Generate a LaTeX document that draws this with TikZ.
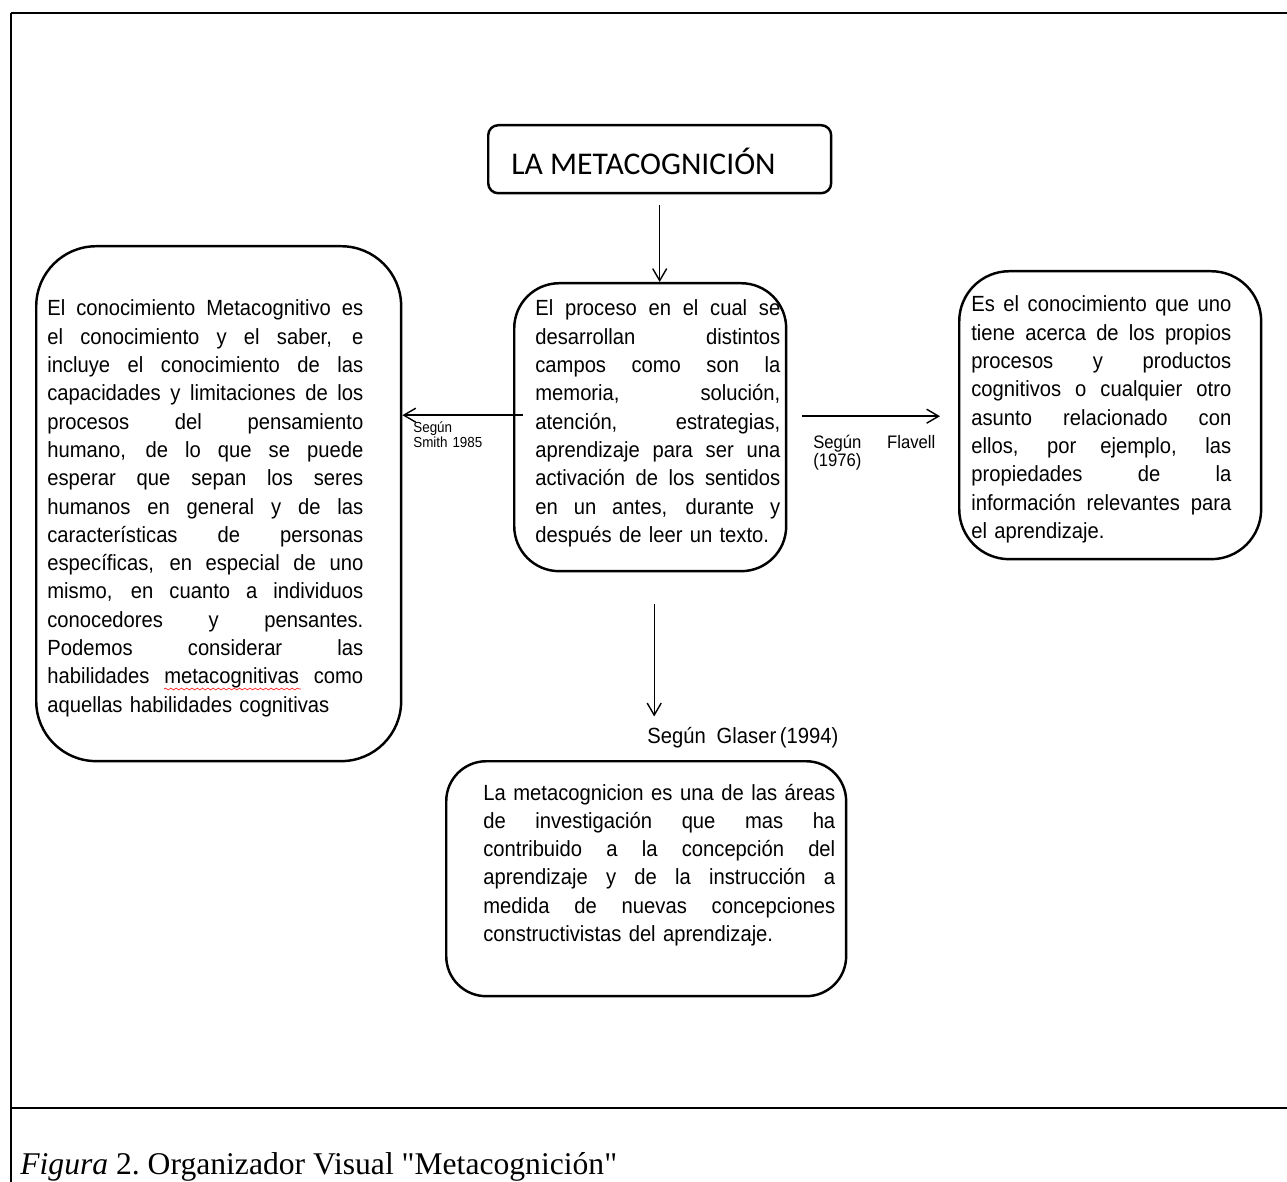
\documentclass[tikz,border=0pt]{standalone}
\usepackage{fontspec}
\setmainfont{Liberation Serif}[Ligatures=TeXOff]
\newfontfamily\arialn[FakeStretch=0.92]{Liberation Sans}
\newfontfamily\calibri{Carlito}
\usetikzlibrary{arrows.meta,decorations.pathmorphing}
\newcommand{\jl}[1]{\hbox to\hsize{\spaceskip=0.28em plus 1fil\xspaceskip=\spaceskip\relax #1}}

\tikzset{
	caja/.style={draw, line width=1.4pt, rounded corners=#1, anchor=north west, inner sep=0pt},
	texto/.style={anchor=base west, inner sep=0pt, font=\arialn\fontsize{12.5}{16.1}\selectfont},
	flecha/.style={line width=0.8pt, -{Straight Barb[length=2.4mm,width=2.8mm]}},
}

\begin{document}
\begin{tikzpicture}[x=0.02cm, y=-0.02cm]
			%%%%% START %%%%%
			\useasboundingbox (0,0) rectangle (1287,1182);
			
			\draw[line width=1.1pt] (11,13) -- (1287,13);
			\draw[line width=1.1pt] (11,13) -- (11,1182);
			\draw[line width=1.1pt] (11,1108) -- (1287,1108);
			
			\node[caja=0.2cm, minimum width=6.86cm, minimum height=1.36cm] (titulo) at (487,124) {};
			\node[anchor=base west, inner sep=0pt, font=\calibri\fontsize{18}{20}\selectfont] (titulo-t) at (511,175) {LA METACOGNICIÓN};
			
			\node[caja=1.2cm, minimum width=7.3cm, minimum height=10.3cm] (conoc) at (35,245) {};
			\node[caja=0.9cm, minimum width=5.44cm, minimum height=5.76cm] (proc) at (513,282) {};
			\node[caja=1cm, minimum width=6.04cm, minimum height=5.76cm] (acerca) at (958,270) {};
			\node[caja=0.8cm, minimum width=8cm, minimum height=4.7cm] (areas) at (445,760) {};
			
			\node[texto, text width=6.32cm] (conoc-t) at (47,316) {%
				\jl{El conocimiento Metacognitivo es}
				\jl{el conocimiento y el saber, e}
				\jl{incluye el conocimiento de las}
				\jl{capacidades y limitaciones de los}
				\jl{procesos del pensamiento}
				\jl{humano, de lo que se puede}
				\jl{esperar que sepan los seres}
				\jl{humanos en general y de las}
				\jl{características de personas}
				\jl{específicas, en especial de uno}
				\jl{mismo, en cuanto a individuos}
				\jl{conocedores y pensantes.}
				\jl{Podemos considerar las}
				\jl{habilidades metacognitivas como}
				\hbox{aquellas habilidades cognitivas}};
			\draw[red!85, line width=0.4pt, decorate, decoration={snake, amplitude=0.5pt, segment length=3pt}] (164,689) -- (301,689);
			
			\node[texto, text width=4.9cm] (proc-t) at (535,316) {%
				\jl{El proceso en el cual se}
				\jl{desarrollan distintos}
				\jl{campos como son la}
				\jl{memoria, solución,}
				\jl{atención, estrategias,}
				\jl{aprendizaje para ser una}
				\jl{activación de los sentidos}
				\jl{en un antes, durante y}
				\hbox{después de leer un texto.}};
			
			\node[texto, text width=5.2cm] (acerca-t) at (971,312) {%
				\jl{Es el conocimiento que uno}
				\jl{tiene acerca de los propios}
				\jl{procesos y productos}
				\jl{cognitivos o cualquier otro}
				\jl{asunto relacionado con}
				\jl{ellos, por ejemplo, las}
				\jl{propiedades de la}
				\jl{información relevantes para}
				\hbox{el aprendizaje.}};
			
			\node[texto, text width=7.04cm] (areas-t) at (483,800) {%
				\jl{La metacognicion es una de las áreas}
				\jl{de investigación que mas ha}
				\jl{contribuido a la concepción del}
				\jl{aprendizaje y de la instrucción a}
				\jl{medida de nuevas concepciones}
				\hbox{constructivistas del aprendizaje.}};
			
			\node[texto, text width=2cm, font=\arialn\fontsize{8.3}{7.4}\selectfont] (smith) at (413,432) {Según\\Smith 1985};
			\node[texto, text width=2.44cm, font=\arialn\fontsize{10.3}{9.2}\selectfont] (flavell) at (813,448) {\jl{Según Flavell} \hbox{(1976)}};
			\node[texto] (glaser) at (647,743) {Según\enspace Glaser\,(1994)};
			
			\draw[flecha] ([shift={(0,11)}]titulo.south) -- (titulo.south |- proc.north);
			\coordinate (a-izq) at ([shift={(10,-12)}]proc.west);
			\draw[flecha] (a-izq) -- (a-izq -| conoc.east);
			\coordinate (a-der) at ([shift={(15,-11)}]proc.east);
			\draw[flecha] (a-der) -- ([xshift=-0.36cm]a-der -| acerca.west);
			\coordinate (a-aba) at ([shift={(4,32)}]proc.south);
			\draw[flecha] (a-aba) -- ([yshift=0.2cm]a-aba |- glaser.north);
			
			\node[anchor=base west, inner sep=0pt, font=\fontsize{18}{20}\selectfont] (pie) at (20,1174) {\textit{Figura} 2.\ Organizador Visual "Metacognición"};
			%%%%% END %%%%%
\end{tikzpicture}
\end{document}
